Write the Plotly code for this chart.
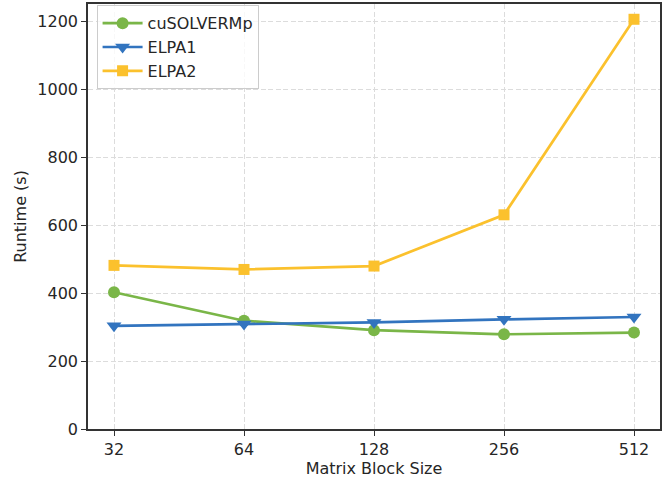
import plotly.graph_objects as go

block_sizes = ["32", "64", "128", "256", "512"]
cusolvermp = [403, 319, 291, 279, 284]
elpa1 = [304, 309, 314, 323, 330]
elpa2 = [482, 470, 480, 631, 1207]

series = [
    ("cuSOLVERMp", cusolvermp, "#7ab648", "circle", 12),
    ("ELPA1", elpa1, "#3274bf", "triangle-down", 13),
    ("ELPA2", elpa2, "#fbc12d", "square", 11),
]

fig = go.Figure()
for name, vals, color, sym, size in series:
    fig.add_trace(go.Scatter(
        x=block_sizes, y=vals, name=name, mode="lines+markers",
        line=dict(color=color, width=2.7),
        marker=dict(symbol=sym, size=size, color=color),
    ))

FONT = dict(family="DejaVu Sans", size=16, color="#262626")

axis_common = dict(
    showline=True, mirror=True, linecolor="#333333", linewidth=1.6,
    ticks="outside", ticklen=5, tickwidth=1.3, tickcolor="#333333",
    showgrid=True, gridcolor="#dcdcdc", griddash="5px,2.5px", gridwidth=1.1,
    zeroline=False,
    tickfont=FONT,
    title_font=FONT,
)

fig.update_layout(
    width=672, height=480,
    margin=dict(l=88, r=12, t=2, b=51),
    paper_bgcolor="white", plot_bgcolor="white",
    font=FONT,
    xaxis=dict(type="category", range=[-0.2, 4.2],
               title=dict(text="Matrix Block Size", standoff=3), **axis_common),
    yaxis=dict(range=[0, 1252], tickvals=[0, 200, 400, 600, 800, 1000, 1200],
               title=dict(text="Runtime (s)", standoff=7), **axis_common),
    legend=dict(x=0.015, y=0.997, xanchor="left", yanchor="top",
                bgcolor="rgba(255,255,255,0.8)", bordercolor="#cccccc", borderwidth=1,
                font=FONT, tracegroupgap=0, itemwidth=40),
    showlegend=True,
)

fig.write_html("out.html")
